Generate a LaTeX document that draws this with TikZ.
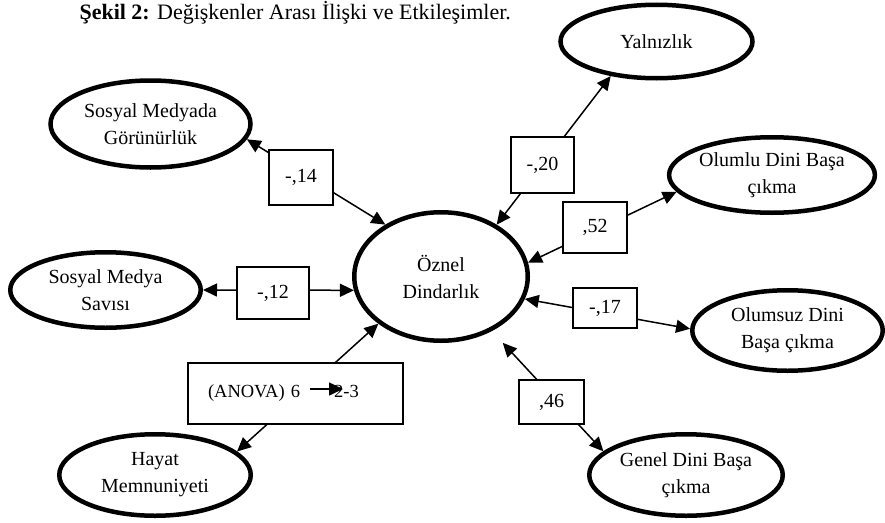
\documentclass[tikz,border=0pt]{standalone}
\usepackage{fontspec}
\setmainfont{Liberation Serif}
\usetikzlibrary{shapes.geometric,arrows.meta}
\begin{document}
\begin{tikzpicture}[x=1pt,y=-1pt,
    construct/.style ={ellipse, draw, line width=4.5pt, inner sep=0pt, align=center, font=\fontsize{20}{27}\selectfont},
    coefbox/.style ={rectangle, draw, fill=white, line width=1.6pt, inner sep=0pt, font=\fontsize{20}{24}\selectfont},
    relation/.style ={line width=1.5pt, {Triangle[length=14pt,width=13pt]}-{Triangle[length=14pt,width=13pt]}}]
   \useasboundingbox (0,0) rectangle (885,522);
   \node[anchor=base west, font=\fontsize{22}{26}\selectfont] (title) at (76,19) {\textbf{Şekil 2:} Değişkenler Arası İlişki ve Etkileşimler.};
   % constructs
   \node[construct, minimum width=200pt, minimum height=87pt] (smg) at (150.5,124) {Sosyal Medyada\\Görünürlük};
   \node[construct, minimum width=192pt, minimum height=73.5pt] (yal) at (656.5,41.5) {Yalnızlık};
   \node[construct, minimum width=194.5pt, minimum height=75.5pt] (olu) at (772,175) {Olumlu Dini Başa\\çıkma};
   \node[construct, minimum width=173.5pt, minimum height=128.5pt] (oz) at (441,276.5) {Öznel\\Dindarlık};
   \node[construct, minimum width=190.5pt, minimum height=75.5pt] (sms) at (105.5,290) {Sosyal Medya\\Savısı};
   \node[construct, minimum width=190.5pt, minimum height=80.5pt] (ols) at (787.5,330.5) {Olumsuz Dini\\Başa çıkma};
   \node[construct, minimum width=193.5pt, minimum height=81.5pt] (gen) at (686,475) {Genel Dini Başa\\çıkma};
   \node[construct, minimum width=191.5pt, minimum height=81.5pt] (hay) at (155,475) {Hayat\\Memnuniyeti};
   % relations
   \draw[relation] (smg.-9) -- (oz.137);
   \draw[relation] (oz.43) -- (yal.-143);
   \draw[relation] (oz.9) -- (olu.190);
   \draw[relation] (sms.0) -- (oz.189);
   \draw[relation] (oz.-15) -- (ols.179);
   \draw[relation, shorten <=16pt] (oz.-47) -- (gen.164);
   \draw[relation] (hay.16) -- (oz.-143);
   % coefficients
   \node[coefbox, minimum width=64pt, minimum height=55pt] (b14) at (301,177.5) {-,14};
   \node[coefbox, minimum width=63pt, minimum height=56pt] (b20) at (542.5,165) {-,20};
   \node[coefbox, minimum width=64pt, minimum height=51pt] (b52) at (595,227.5) {,52};
   \node[coefbox, minimum width=72pt, minimum height=52pt] (b12) at (273,293) {-,12};
   \node[coefbox, minimum width=64pt, minimum height=40pt] (b17) at (605,308) {-,17};
   \node[coefbox, minimum width=65pt, minimum height=44pt] (b46) at (551.5,402) {,46};
   \node[coefbox, minimum height=61pt, inner xsep=20pt, text width=175pt, align=left, font=\fontsize{18.5}{22}\selectfont] (anova) at (295.5,393.5) {(ANOVA) 6\hspace{34pt}2-3};
   \coordinate (anA) at (310,389);
   \coordinate (anB) at (343,389);
   \draw[line width=1.5pt, -{Triangle[length=14pt,width=13pt]}] (anA) -- (anB);
\end{tikzpicture}
\end{document}
